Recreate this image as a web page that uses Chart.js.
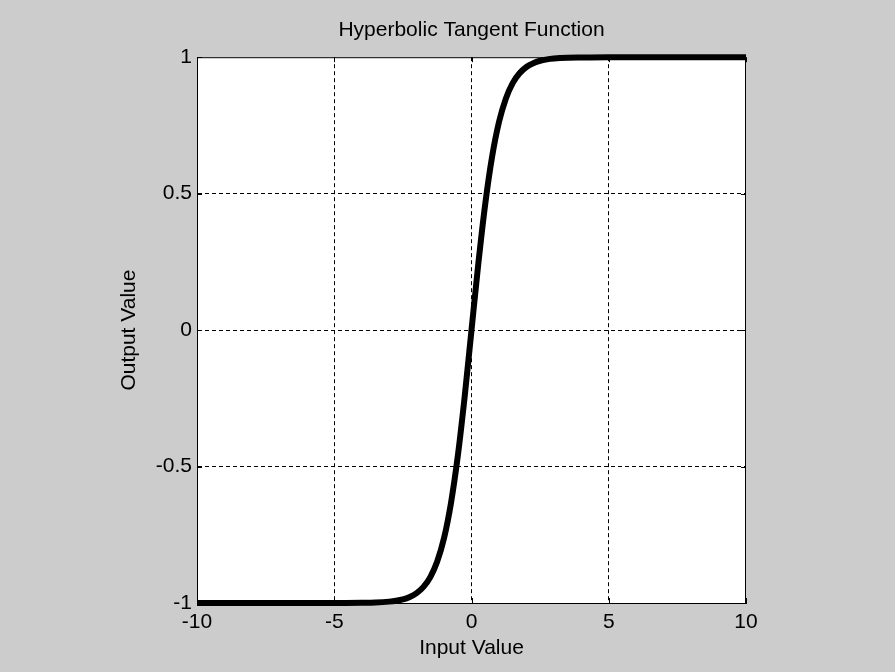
<!DOCTYPE html>
<html>
<head>
<meta charset="utf-8">
<script src="https://cdn.jsdelivr.net/npm/chart.js@4.4.0/dist/chart.umd.min.js"></script>
<style>
  body { margin: 0; background: #cccccc; }
  canvas { display: block; }
</style>
</head>
<body>
<canvas id="tanhChart" width="895" height="672"></canvas>
<script>
// values
const inputValues = [-10, -5, -4, -3.5, -3, -2.75, -2.5, -2.25, -2, -1.75, -1.5, -1.25, -1, -0.75, -0.5, -0.25,
  0, 0.25, 0.5, 0.75, 1, 1.25, 1.5, 1.75, 2, 2.25, 2.5, 2.75, 3, 3.5, 4, 5, 10];
const outputValues = [-1, -1, -0.999, -0.998, -0.995, -0.992, -0.987, -0.978, -0.964, -0.941, -0.905, -0.848, -0.762, -0.635, -0.462, -0.245,
  0, 0.245, 0.462, 0.635, 0.762, 0.848, 0.905, 0.941, 0.964, 0.978, 0.987, 0.992, 0.995, 0.998, 0.999, 1, 1];
const xTicks = [-10, -5, 0, 5, 10];
const yTicks = [-1, -0.5, 0, 0.5, 1];

const FONT = "'Liberation Sans', Arial, sans-serif";
const FONT_SIZE = 21;

// white plot area + solid box with inward ticks (matlab style)
const plotBoxPlugin = {
  id: "plotBox",
  beforeDraw(chart) {
    const { ctx, chartArea: a } = chart;
    ctx.save();
    ctx.fillStyle = "#ffffff";
    ctx.fillRect(a.left, a.top, a.right - a.left, a.bottom - a.top);
    ctx.restore();
  },
  afterDatasetsDraw(chart) {
    const { ctx, chartArea: a, scales } = chart;
    const len = 5;
    ctx.save();
    ctx.strokeStyle = "#000";
    ctx.lineWidth = 1;
    ctx.setLineDash([]);
    ctx.strokeRect(a.left + 0.5, a.top + 0.5, a.right - a.left - 1, a.bottom - a.top);
    ctx.beginPath();
    xTicks.forEach(v => {
      const px = Math.round(scales.x.getPixelForValue(v)) + 0.5;
      ctx.moveTo(px, a.bottom); ctx.lineTo(px, a.bottom - len);
      ctx.moveTo(px, a.top); ctx.lineTo(px, a.top + len);
    });
    yTicks.forEach(v => {
      const py = Math.round(scales.y.getPixelForValue(v)) + 0.5;
      ctx.moveTo(a.left, py); ctx.lineTo(a.left + len, py);
      ctx.moveTo(a.right, py); ctx.lineTo(a.right - len, py);
    });
    ctx.stroke();
    ctx.restore();
  }
};

// hide the dashed grid line that would sit on the box edges
function gridColor(min, max) {
  return c => (c.tick && (c.tick.value === min || c.tick.value === max)) ? "rgba(0,0,0,0)" : "#000";
}

const ctx = document.getElementById("tanhChart").getContext("2d");

new Chart(ctx, {
  type: "line",
  data: {
    datasets: [{
      label: "tanh",
      data: inputValues.map((x, i) => ({ x: x, y: outputValues[i] })),
      borderColor: "#000000",
      borderWidth: 6,
      pointRadius: 0,
      cubicInterpolationMode: "monotone",
      fill: false,
      clip: false
    }]
  },
  options: {
    responsive: false,
    animation: false,
    layout: { padding: { left: 0, right: 149, top: 0, bottom: 0 } },
    plugins: {
      legend: { display: false },
      tooltip: { enabled: false },
      title: {
        display: true,
        text: "Hyperbolic Tangent Function",
        fullSize: false,
        color: "#000",
        font: { family: FONT, size: FONT_SIZE, weight: "normal" },
        padding: { top: 18, bottom: 14 }
      }
    },
    scales: {
      x: {
        type: "linear",
        min: -10,
        max: 10,
        afterBuildTicks(scale) { scale.ticks = xTicks.map(v => ({ value: v })); },
        afterFit(scale) { scale.height = 69; },
        ticks: { color: "#000", font: { family: FONT, size: FONT_SIZE }, padding: 7, callback: v => String(v) },
        grid: { color: gridColor(-10, 10), lineWidth: 1, drawTicks: false },
        border: { display: true, color: "#000", width: 1, dash: [4, 3] },
        title: {
          display: true,
          text: "Input Value",
          color: "#000",
          font: { family: FONT, size: FONT_SIZE },
          padding: { top: 0, bottom: 11 }
        }
      },
      y: {
        type: "linear",
        min: -1,
        max: 1,
        afterBuildTicks(scale) { scale.ticks = yTicks.map(v => ({ value: v })); },
        afterFit(scale) { scale.width = 197; },
        ticks: { color: "#000", font: { family: FONT, size: FONT_SIZE }, padding: 5, callback: v => String(v) },
        grid: { color: gridColor(-1, 1), lineWidth: 1, drawTicks: false },
        border: { display: true, color: "#000", width: 1, dash: [4, 3] },
        title: {
          display: true,
          text: "Output Value",
          color: "#000",
          font: { family: FONT, size: FONT_SIZE },
          padding: { top: 117, bottom: 0 }
        }
      }
    }
  },
  plugins: [plotBoxPlugin]
});
</script>
</body>
</html>
